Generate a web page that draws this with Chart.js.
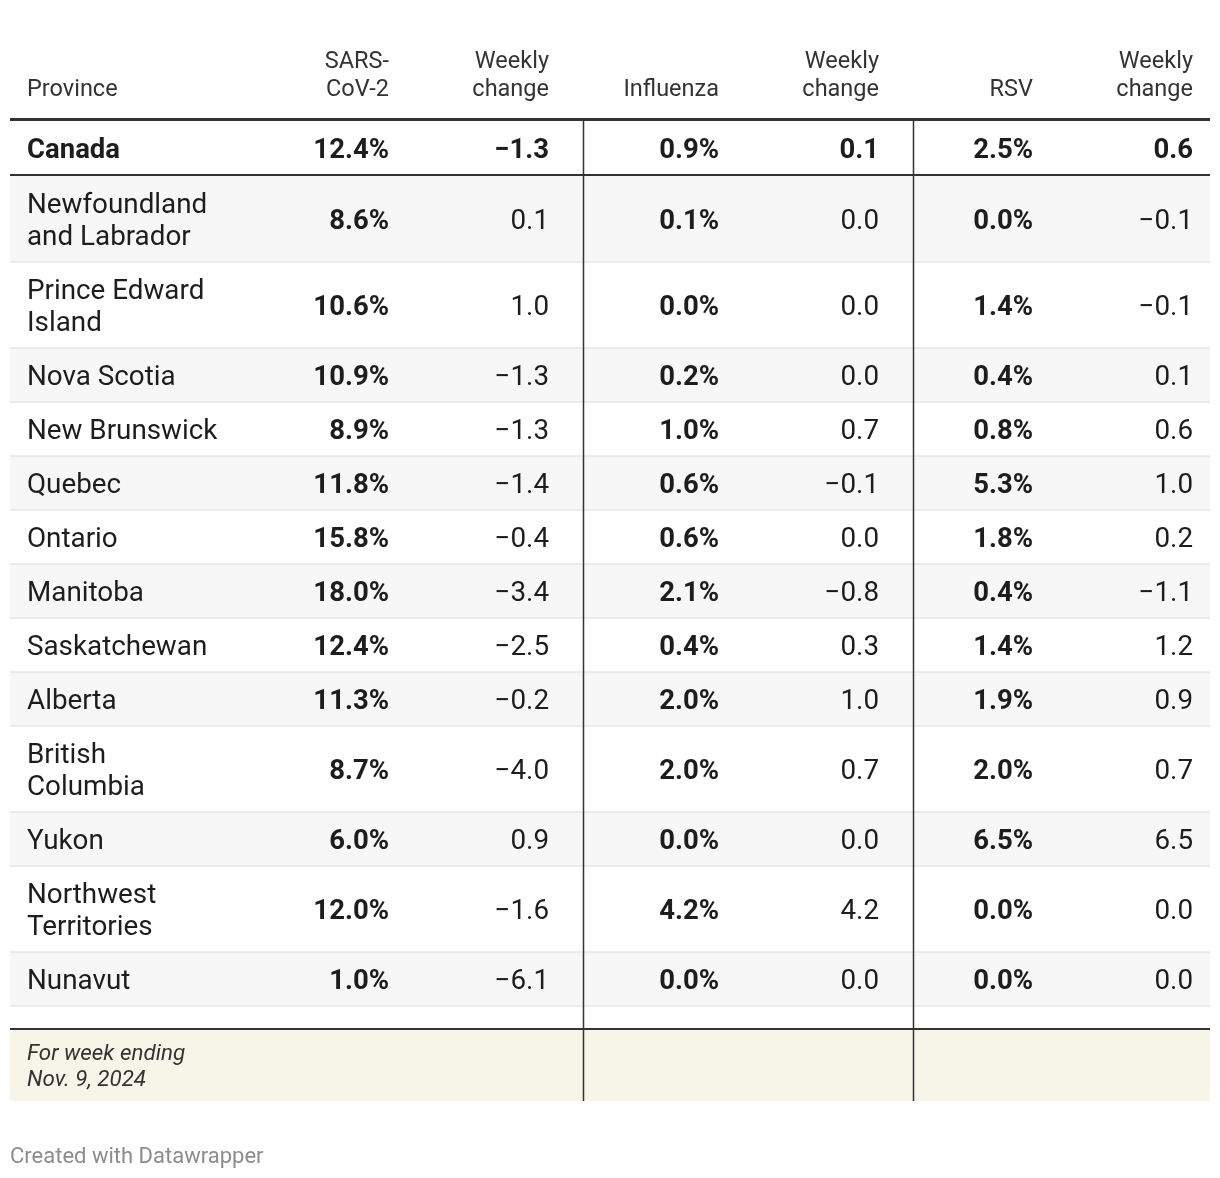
<!DOCTYPE html>
<html>
<head>
<meta charset="utf-8">
<script src="https://cdn.jsdelivr.net/npm/chart.js"></script>
<style>
  body { margin: 0; background: #ffffff; }
  canvas { display: block; }
</style>
</head>
<body>
<canvas id="myChart" width="1220" height="1178"></canvas>
<script>
const headers = [
    ["Province"],
    ["SARS-", "CoV-2"],
    ["Weekly", "change"],
    ["Influenza"],
    ["Weekly", "change"],
    ["RSV"],
    ["Weekly", "change"]
];

const provinces = [
    ["Canada"],
    ["Newfoundland", "and Labrador"],
    ["Prince Edward", "Island"],
    ["Nova Scotia"],
    ["New Brunswick"],
    ["Quebec"],
    ["Ontario"],
    ["Manitoba"],
    ["Saskatchewan"],
    ["Alberta"],
    ["British", "Columbia"],
    ["Yukon"],
    ["Northwest", "Territories"],
    ["Nunavut"]
];

const sarsCov2   = [12.4, 8.6, 10.6, 10.9, 8.9, 11.8, 15.8, 18.0, 12.4, 11.3, 8.7, 6.0, 12.0, 1.0];
const sarsChange = [-1.3, 0.1, 1.0, -1.3, -1.3, -1.4, -0.4, -3.4, -2.5, -0.2, -4.0, 0.9, -1.6, -6.1];
const influenza  = [0.9, 0.1, 0.0, 0.2, 1.0, 0.6, 0.6, 2.1, 0.4, 2.0, 2.0, 0.0, 4.2, 0.0];
const fluChange  = [0.1, 0.0, 0.0, 0.0, 0.7, -0.1, 0.0, -0.8, 0.3, 1.0, 0.7, 0.0, 4.2, 0.0];
const rsv        = [2.5, 0.0, 1.4, 0.4, 0.8, 5.3, 1.8, 0.4, 1.4, 1.9, 2.0, 6.5, 0.0, 0.0];
const rsvChange  = [0.6, -0.1, -0.1, 0.1, 0.6, 1.0, 0.2, -1.1, 1.2, 0.9, 0.7, 6.5, 0.0, 0.0];

const footNote = ["For week ending", "Nov. 9, 2024"];
const credit = "Created with Datawrapper";

// --- layout (table units, mapped through the chart scales) ---
const TABLE_W = 1200;
const HEADER_H = 121;
const ROW_H = 54;
const EXTRA_LINE_H = 32;
const GAP_H = 22;
const FOOTER_H = 72;

const colAnchor = [17, 379, 539, 709, 869, 1023, 1183];
const colAlign = ["left", "right", "right", "right", "right", "right", "right"];
const colBold = [false, true, false, true, false, true, false];
const dividers = [573.5, 903.5];

const FONT = "Roboto, 'Noto Sans', Arial, sans-serif";
const TEXT = "#1d1d1d";
const DARK_LINE = "#333333";
const LIGHT_LINE = "#e6e6e6";

// row boxes
let rowCursor = HEADER_H;
const rows = provinces.map((lines, i) => {
    const h = ROW_H + EXTRA_LINE_H * (lines.length - 1);
    const r = { top: rowCursor, h: h, mid: rowCursor + h / 2 };
    rowCursor += h + (i === 0 ? 1 : 0);
    return r;
});
const rowsEnd = rowCursor;
const gapLine = rowsEnd + GAP_H + 1;
const footerTop = gapLine + 1;
const TABLE_H = footerTop + FOOTER_H - 1;

function pct(v) {
    return v.toFixed(1) + "%";
}
function chg(v) {
    return v < 0 ? "\u2212" + Math.abs(v).toFixed(1) : v.toFixed(1);
}

const columnTexts = [
    provinces,
    sarsCov2.map(v => [pct(v)]),
    sarsChange.map(v => [chg(v)]),
    influenza.map(v => [pct(v)]),
    fluChange.map(v => [chg(v)]),
    rsv.map(v => [pct(v)]),
    rsvChange.map(v => [chg(v)])
];

// one invisible scatter dataset per column, one point per cell
const datasets = columnTexts.map((texts, c) => ({
    label: headers[c].join(" "),
    cellTexts: texts,
    data: rows.map(r => ({ x: colAnchor[c], y: r.mid })),
    pointRadius: 0,
    pointHoverRadius: 0,
    showLine: false
}));

const tablePlugin = {
    id: "tablePlugin",
    beforeDatasetsDraw(chart) {
        const ctx = chart.ctx;
        const xs = chart.scales.x;
        const ys = chart.scales.y;
        const x0 = xs.getPixelForValue(0);
        const x1 = xs.getPixelForValue(TABLE_W);

        ctx.save();
        // row stripes
        rows.forEach((r, i) => {
            ctx.fillStyle = i % 2 === 1 ? "#f7f7f7" : "#ffffff";
            const y0 = ys.getPixelForValue(r.top);
            const y1 = ys.getPixelForValue(r.top + r.h);
            ctx.fillRect(x0, y0, x1 - x0, y1 - y0);
        });
        // footer
        ctx.fillStyle = "#f7f4e8";
        ctx.fillRect(x0, ys.getPixelForValue(footerTop), x1 - x0,
            ys.getPixelForValue(TABLE_H) - ys.getPixelForValue(footerTop));

        // light row separators
        ctx.strokeStyle = LIGHT_LINE;
        ctx.lineWidth = 1.5;
        rows.forEach((r, i) => {
            if (i === 0) return;
            const y = ys.getPixelForValue(r.top + r.h);
            ctx.beginPath();
            ctx.moveTo(x0, y);
            ctx.lineTo(x1, y);
            ctx.stroke();
        });

        // dark lines
        ctx.strokeStyle = DARK_LINE;
        const hLines = [[HEADER_H - 1.5, 3], [rows[0].top + rows[0].h, 2], [gapLine, 2]];
        hLines.forEach(([v, w]) => {
            ctx.lineWidth = w;
            const y = ys.getPixelForValue(v);
            ctx.beginPath();
            ctx.moveTo(x0, y);
            ctx.lineTo(x1, y);
            ctx.stroke();
        });
        ctx.lineWidth = 1.5;
        dividers.forEach(d => {
            const x = xs.getPixelForValue(d);
            ctx.beginPath();
            ctx.moveTo(x, ys.getPixelForValue(HEADER_H));
            ctx.lineTo(x, ys.getPixelForValue(TABLE_H));
            ctx.stroke();
        });
        ctx.restore();
    },
    afterDatasetsDraw(chart) {
        const ctx = chart.ctx;
        const xs = chart.scales.x;
        const ys = chart.scales.y;
        ctx.save();
        ctx.textBaseline = "middle";

        // headers, bottom aligned
        ctx.fillStyle = "#333333";
        ctx.font = "23.5px " + FONT;
        headers.forEach((lines, c) => {
            ctx.textAlign = colAlign[c];
            const x = xs.getPixelForValue(colAnchor[c]);
            lines.forEach((t, k) => {
                const v = 90 - 28 * (lines.length - 1 - k);
                ctx.fillText(t, x, ys.getPixelForValue(v));
            });
        });

        // cells
        ctx.fillStyle = TEXT;
        chart.data.datasets.forEach((ds, c) => {
            const meta = chart.getDatasetMeta(c);
            ctx.textAlign = colAlign[c];
            meta.data.forEach((pt, i) => {
                const lines = ds.cellTexts[i];
                const bold = colBold[c] || i === 0;
                ctx.font = (bold ? "bold " : "") + (bold ? "27.5px " : "27.8px ") + FONT;
                lines.forEach((t, k) => {
                    const off = (k - (lines.length - 1) / 2) * EXTRA_LINE_H;
                    ctx.fillText(t, pt.x, pt.y + off + 3);
                });
            });
        });

        // footer note
        ctx.font = "italic 22.4px " + FONT;
        ctx.textAlign = "left";
        ctx.fillStyle = "#333333";
        footNote.forEach((t, k) => {
            ctx.fillText(t, xs.getPixelForValue(colAnchor[0]), ys.getPixelForValue(footerTop + 24 + 26 * k));
        });

        // credit line below the table
        ctx.font = "22px " + FONT;
        ctx.fillStyle = "#8c8c8c";
        ctx.fillText(credit, xs.getPixelForValue(0), ys.getPixelForValue(TABLE_H + 56));
        ctx.restore();
    }
};

const chartData = {
    type: "scatter",
    data: { datasets: datasets },
    options: {
        responsive: false,
        animation: false,
        devicePixelRatio: 1,
        events: [],
        layout: {
            padding: { left: 10, right: 10, top: 0, bottom: 1178 - TABLE_H }
        },
        plugins: {
            legend: { display: false },
            tooltip: { enabled: false },
            title: { display: false }
        },
        scales: {
            x: { type: "linear", display: false, min: 0, max: TABLE_W },
            y: { type: "linear", display: false, min: 0, max: TABLE_H, reverse: true }
        }
    },
    plugins: [tablePlugin]
};

const ctx = document.getElementById("myChart");
new Chart(ctx, chartData);
</script>
</body>
</html>
